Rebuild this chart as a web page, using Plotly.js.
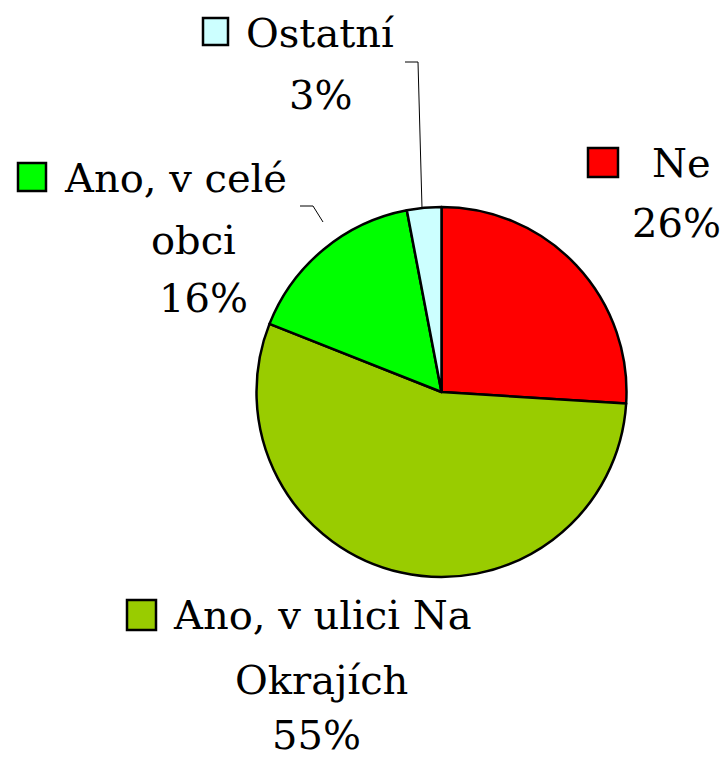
<!DOCTYPE html>
<html><head><meta charset="utf-8">
<script src="https://cdn.plot.ly/plotly-3.0.1.min.js"></script>
<style>html,body{margin:0;padding:0;background:#fff}#chart{width:726px;height:759px}</style>
</head><body><div id="chart"></div>
<script>
var categories = ["Ne", "Ano, v ulici Na Okrajích", "Ano, v celé obci", "Ostatní"];
var values = [26, 55, 16, 3];
var colors = ["#FF0000", "#99CC00", "#00FF00", "#CCFFFF"];
// label lines per category (text lines, the last is percentage)
var labelLines = [["Ne"], ["Ano, v ulici Na", "Okrajích"], ["Ano, v celé", "obci"], ["Ostatní"]];

var W = 726, H = 759;
function px(x){return x / W;}
function py(y){return 1 - y / H;}

// layout positions (pixels) for each label block
var labelPos = [
  {sq:[588,148,618,177], lines:[{x:681,y:163}], pct:{x:676,y:223}},
  {sq:[127,600,156,630], lines:[{x:322,y:615},{x:321,y:680}], pct:{x:316,y:735}},
  {sq:[18,163,46,191], lines:[{x:175,y:178},{x:193,y:240}], pct:{x:203,y:298}},
  {sq:[203,18,228,45], lines:[{x:320,y:33}], pct:{x:320,y:95}}
];
var total = values.reduce(function(a,b){return a+b;},0);
var font = {family:"DejaVu Serif", size:40, color:"#000"};
var annotations = [], shapes = [];
categories.forEach(function(c,i){
  var p = labelPos[i];
  labelLines[i].forEach(function(t,j){
    annotations.push({xref:"paper",yref:"paper",x:px(p.lines[j].x),y:py(p.lines[j].y),
      text:t,showarrow:false,xanchor:"center",yanchor:"middle",font:font});
  });
  annotations.push({xref:"paper",yref:"paper",x:px(p.pct.x),y:py(p.pct.y),
    text:Math.round(values[i]/total*100)+"%",showarrow:false,xanchor:"center",yanchor:"middle",font:font});
  shapes.push({type:"rect",xref:"paper",yref:"paper",x0:px(p.sq[0]),x1:px(p.sq[2]),
    y0:py(p.sq[3]),y1:py(p.sq[1]),fillcolor:colors[i],line:{color:"#000",width:2.5}});
});
// leader lines
shapes.push({type:"path",xref:"paper",yref:"paper",
  path:"M "+px(405)+" "+py(62)+" L "+px(418)+" "+py(62)+" L "+px(422)+" "+py(208),
  line:{color:"#000",width:1}});
shapes.push({type:"path",xref:"paper",yref:"paper",
  path:"M "+px(300)+" "+py(206)+" L "+px(313)+" "+py(206)+" L "+px(323)+" "+py(222),
  line:{color:"#000",width:1}});

var data = [{
  type:"pie", labels:categories, values:values, sort:false, direction:"clockwise", rotation:0,
  marker:{colors:colors, line:{color:"#000", width:2.5}},
  textinfo:"none", hoverinfo:"none", showlegend:false,
  domain:{x:[px(256), px(627)], y:[py(577), py(207)]}
}];
var layout = {width:W, height:H, margin:{l:0,r:0,t:0,b:0}, paper_bgcolor:"#fff",
  showlegend:false, annotations:annotations, shapes:shapes};
Plotly.newPlot("chart", data, layout, {displayModeBar:false, staticPlot:true});
</script></body></html>
